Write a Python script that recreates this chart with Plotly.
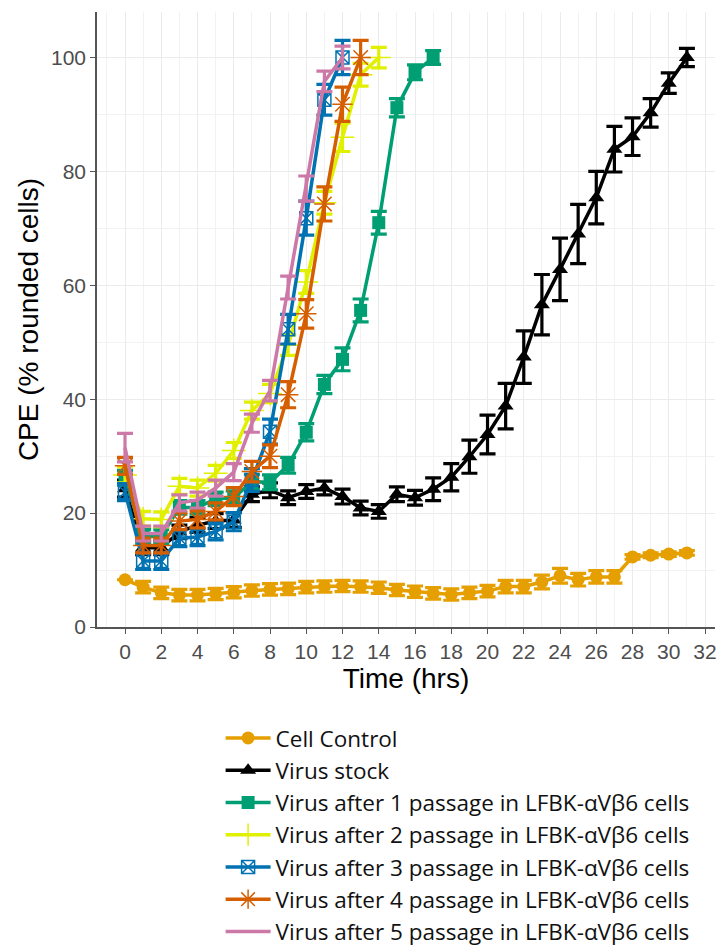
import plotly.graph_objects as go

hours = list(range(32))

series_names = [
    "Cell Control",
    "Virus stock",
    "Virus after 1 passage in LFBK-αVβ6 cells",
    "Virus after 2 passage in LFBK-αVβ6 cells",
    "Virus after 3 passage in LFBK-αVβ6 cells",
    "Virus after 4 passage in LFBK-αVβ6 cells",
    "Virus after 5 passage in LFBK-αVβ6 cells",
]

cell_control = [8.3, 7.0, 6.0, 5.6, 5.6, 5.8, 6.1, 6.4, 6.6, 6.7, 7.0, 7.1, 7.2, 7.1, 6.9, 6.5,
                6.2, 5.9, 5.7, 6.0, 6.3, 7.1, 7.1, 7.9, 9.0, 8.3, 8.8, 8.8, 12.3, 12.6, 12.8, 13.0]
cell_control_err = [0, 1.0, 1.0, 1.0, 1.0, 1.0, 1.0, 1.0, 1.0, 1.0, 1.0, 1.0, 1.0, 1.0, 1.0, 1.0,
                    1.0, 1.0, 1.0, 1.0, 1.0, 1.1, 1.1, 1.2, 1.3, 1.1, 1.1, 1.1, 0.4, 0.4, 0.4, 0.4]

virus_stock = [24.3, 13.9, 13.9, 16.7, 17.9, 18.6, 18.8, 23.3, 24.0, 22.7, 23.8, 24.4, 22.9, 20.9,
               20.3, 23.3, 22.7, 24.2, 26.3, 29.9, 33.8, 38.8, 47.4, 56.6, 62.8, 69.0, 75.4, 83.9,
               86.1, 90.3, 95.5, 100.0]
virus_stock_err = [1.5, 1.2, 1.2, 1.2, 1.3, 1.3, 1.3, 1.3, 1.3, 1.2, 1.2, 1.2, 1.3, 1.2, 1.2, 1.3,
                   1.3, 2.0, 2.4, 2.9, 3.4, 4.0, 4.6, 5.3, 5.5, 5.2, 4.6, 4.0, 3.3, 2.5, 1.8, 1.6]

p1 = [26.2, 15.9, 15.9, 21.0, 21.0, 22.5, 22.7, 25.5, 25.4, 28.4, 34.2, 42.6, 47.0, 55.6, 71.0,
      91.2, 97.4, 100.0]
p1_err = [1.3, 1.2, 1.2, 1.2, 1.2, 1.2, 1.2, 1.3, 1.3, 1.4, 1.5, 1.6, 2.0, 2.0, 2.0, 1.6, 1.3, 1.2]

p2 = [26.7, 19.0, 18.9, 24.7, 24.4, 27.0, 31.0, 38.0, 41.0, 49.5, 60.6, 74.5, 86.0, 97.0, 100.0]
p2_err = [1.4, 1.3, 1.3, 1.4, 1.4, 1.4, 1.4, 1.5, 1.6, 1.8, 2.0, 2.0, 2.5, 2.0, 1.8]

p3 = [23.7, 11.6, 11.6, 15.6, 15.8, 16.8, 18.5, 25.8, 34.3, 52.3, 71.8, 92.6, 100.0]
p3_err = [1.5, 1.5, 1.5, 1.5, 1.5, 1.5, 1.6, 2.0, 2.2, 2.6, 3.0, 2.7, 3.0]

p4 = [28.3, 14.3, 14.3, 18.6, 18.9, 20.3, 22.9, 27.3, 30.0, 40.8, 55.0, 74.3, 91.8, 100.0]
p4_err = [1.5, 1.3, 1.3, 1.5, 1.5, 1.5, 1.6, 1.8, 2.0, 2.3, 2.5, 3.0, 3.0, 3.0]

p5 = [31.5, 16.4, 16.4, 21.8, 22.3, 24.4, 27.2, 35.8, 41.5, 59.6, 77.0, 95.8, 100.0]
p5_err = [2.5, 1.3, 1.3, 1.4, 1.4, 1.4, 1.5, 1.6, 1.8, 2.0, 2.2, 1.8, 2.0]

x_ticks = list(range(0, 33, 2))
y_ticks = [0, 20, 40, 60, 80, 100]

values = [cell_control, virus_stock, p1, p2, p3, p4, p5]
errors = [cell_control_err, virus_stock_err, p1_err, p2_err, p3_err, p4_err, p5_err]
colors = ["#E69F00", "#000000", "#009E73", "#E0F000", "#0072B2", "#D55E00", "#CC79A7"]
symbols = ["circle", "triangle-up", "square", "cross-thin-open", "square-x-open", "asterisk-open", None]
msizes = [13, 14, 13, 17, 13, 17, 0]
mlinew = [0, 0, 0, 1.5, 1.5, 1.5, 0]

fig = go.Figure()
for i, name in enumerate(series_names):
    ys = values[i]
    xs = hours[:len(ys)]
    mode = "lines+markers" if symbols[i] else "lines"
    marker = dict(color=colors[i], size=msizes[i], symbol=symbols[i] or "circle",
                  line=dict(color=colors[i], width=mlinew[i]))
    fig.add_trace(go.Scatter(
        x=xs, y=ys, name=name, mode=mode,
        line=dict(color=colors[i], width=3.5),
        marker=marker,
        error_y=dict(type="data", array=errors[i], visible=True, color=colors[i],
                     thickness=3.2, width=8),
    ))

fig.update_layout(
    width=721, height=947,
    margin=dict(l=97, r=6, t=12, b=320, autoexpand=False),
    paper_bgcolor="white", plot_bgcolor="white",
    font=dict(family="Liberation Sans, Arial, sans-serif", color="#000000"),
    showlegend=True,
    legend=dict(
        x=0.2, y=-0.146, xanchor="left", yanchor="top",
        orientation="v",
        font=dict(family="Open Sans, Lato, sans-serif", size=22.5, color="#111111"),
        itemwidth=45,
        bgcolor="rgba(0,0,0,0)",
    ),
    xaxis=dict(
        range=[-1.545, 32.55],
        automargin=False,
        tickmode="array", tickvals=x_ticks, ticktext=[str(v) for v in x_ticks],
        showgrid=True, gridcolor="#EBEBEB", gridwidth=1.2,
        minor=dict(dtick=1, tick0=1, showgrid=True, gridcolor="#F2F2F2", gridwidth=0.8),
        showline=True, linecolor="#555555", linewidth=1.5,
        ticks="outside", ticklen=5, tickcolor="#555555", tickwidth=1.2,
        tickfont=dict(size=21, color="#4D4D4D"),
        title=dict(text="Time (hrs)", font=dict(size=28, color="#000000"), standoff=6),
        zeroline=False,
    ),
    yaxis=dict(
        range=[0, 108],
        automargin=False,
        tickmode="array", tickvals=y_ticks, ticktext=[str(v) for v in y_ticks],
        showgrid=True, gridcolor="#EBEBEB", gridwidth=1.2,
        minor=dict(tickvals=[10, 30, 50, 70, 90], showgrid=True, gridcolor="#F2F2F2", gridwidth=0.8),
        showline=True, linecolor="#555555", linewidth=1.5,
        ticks="outside", ticklen=5, tickcolor="#555555", tickwidth=1.2,
        tickfont=dict(size=21, color="#4D4D4D"),
        title=dict(text="CPE (% rounded cells)", font=dict(size=28, color="#000000"), standoff=4),
        zeroline=False,
    ),
)

fig.write_html(
    "out.html",
    config={"displayModeBar": False},
    post_script="document.body.style.margin='0';document.body.style.overflow='hidden';",
)
